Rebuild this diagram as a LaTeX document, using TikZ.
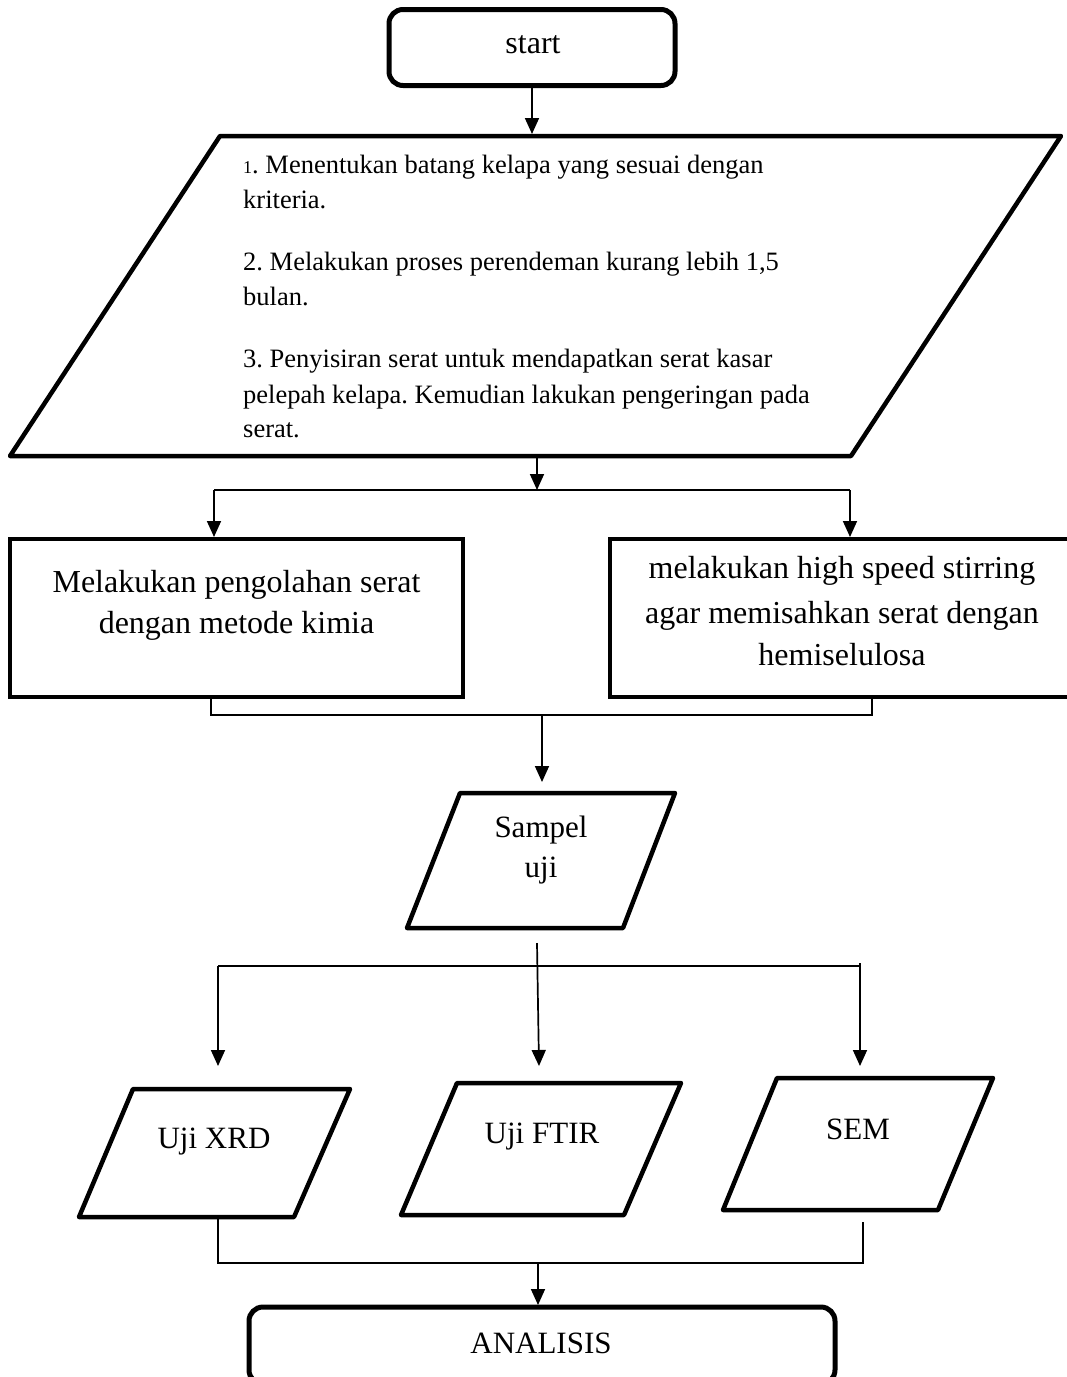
\documentclass[tikz,border=0pt]{standalone}
\usepackage{fontspec}
\setmainfont{Liberation Serif}
\usetikzlibrary{arrows.meta}
\frenchspacing
\begin{document}
\begin{tikzpicture}[x=1pt,y=-1pt,
  conn/.style={line width=1.7pt},
  arr/.style={conn,-{Triangle[length=16pt,width=14pt]}},
  shp/.style={line width=4.5pt,line join=round},
  box/.style={draw,line width=4.5pt,inner sep=0pt,outer sep=0pt},
  rbox/.style={box,line width=5pt,rounded corners=14pt},
  tl/.style={inner sep=0pt,anchor=base},
  tw/.style={inner sep=0pt,anchor=base west},
  small/.style={font=\fontsize{26.5}{30}\selectfont},
  big/.style={font=\fontsize{32}{38}\selectfont}]

\useasboundingbox (0,0) rectangle (1067,1377);

% start
\node[rbox, minimum width=286pt, minimum height=76pt] (start) at (532,47.5) {};
\node[tl,big] (starttxt) at (533,53) {start};

% big input parallelogram
\coordinate (p1a) at (220,136);
\coordinate (p1b) at (1061,136);
\coordinate (p1c) at (851,456);
\coordinate (p1d) at (10,456);
\draw[shp] (p1a) -- (p1b) -- (p1c) -- (p1d) -- cycle;
\coordinate (p1top) at (532,134);
\coordinate (p1bot) at (537,458);
\draw[arr] (start.south) -- (p1top);

\node[tw,small] (l1) at (243,173) {{\fontsize{18}{20}\selectfont 1}. Menentukan batang kelapa yang sesuai dengan};
\node[tw,small] (l2) at (243,208) {kriteria.};
\node[tw,small] (l3) at (243,270) {2. Melakukan proses perendeman kurang lebih 1,5};
\node[tw,small] (l4) at (243,305) {bulan.};
\node[tw,small] (l5) at (243,367) {3. Penyisiran serat untuk mendapatkan serat kasar};
\node[tw,small] (l6) at (243,403) {pelepah kelapa. Kemudian lakukan pengeringan pada};
\node[tw,small] (l7) at (243,437) {serat.};

% split
\coordinate (j1) at (537,490);
\coordinate (j1l) at (214,490);
\coordinate (j1r) at (850,490);
\draw[arr] (p1bot) -- (j1);
\draw[conn] (j1l) -- (j1r);

% process boxes
\node[box, minimum width=453pt, minimum height=158pt] (b1) at (236.5,618) {};
\node[box, minimum width=464pt, minimum height=158pt] (b2) at (842,618) {};
\draw[arr,shorten >=2pt] (j1l) -- (j1l |- b1.north);
\draw[arr,shorten >=2pt] (j1r) -- (j1r |- b2.north);

\node[tl,big] (b1t1) at (236.5,592) {Melakukan pengolahan serat};
\node[tl,big] (b1t2) at (236.5,633) {dengan metode kimia};
\node[tl,big] (b2t1) at (842,578) {melakukan high speed stirring};
\node[tl,big] (b2t2) at (842,623) {agar memisahkan serat dengan};
\node[tl,big] (b2t3) at (842,665) {hemiselulosa};

% merge
\coordinate (m1l) at (211,715);
\coordinate (m1r) at (872,715);
\coordinate (m1) at (542,715);
\coordinate (sIn) at (542,782);
\draw[conn] (b1.south -| m1l) -- (m1l) -- (m1r) -- (b2.south -| m1r);
\draw[arr] (m1) -- (sIn);

% Sampel uji
\coordinate (sa) at (460,793);
\coordinate (sb) at (675,793);
\coordinate (sc) at (623,928);
\coordinate (sd) at (407,928);
\draw[shp] (sa) -- (sb) -- (sc) -- (sd) -- cycle;
\node[tl,big,font=\fontsize{31}{36}\selectfont] (st1) at (541,837) {Sampel};
\node[tl,big,font=\fontsize{31}{36}\selectfont] (st2) at (541,877) {uji};

% split to tests
\coordinate (sOut) at (537,943);
\coordinate (tIn2) at (539,1066);
\coordinate (j2l) at (218,966);
\coordinate (j2r) at (860,966);
\coordinate (j2rt) at (860,963);
\coordinate (tIn1) at (218,1066);
\coordinate (tIn3) at (860,1066);
\draw[arr] (sOut) -- (tIn2);
\draw[conn] (j2l) -- (j2r);
\draw[arr] (j2l) -- (tIn1);
\draw[arr] (j2rt) -- (tIn3);

% tests
\draw[shp] (133,1089) coordinate (xa) -- (350,1089) coordinate (xb) -- (294,1217) coordinate (xc) -- (79,1217) coordinate (xd) -- cycle;
\draw[shp] (457,1083) coordinate (fa) -- (681,1083) coordinate (fb) -- (624,1215) coordinate (fc) -- (401,1215) coordinate (fd) -- cycle;
\draw[shp] (777,1078) coordinate (ea) -- (993,1078) coordinate (eb) -- (938,1210) coordinate (ec) -- (723,1210) coordinate (ed) -- cycle;
\node[tl,font=\fontsize{31}{36}\selectfont] (xt) at (214,1148) {Uji XRD};
\node[tl,font=\fontsize{31}{36}\selectfont] (ft) at (542,1143) {Uji FTIR};
\node[tl,font=\fontsize{31}{36}\selectfont] (et) at (858,1139) {SEM};

% merge to analisis
\coordinate (xo) at (218,1217);
\coordinate (eo) at (863,1222);
\coordinate (m2l) at (218,1263);
\coordinate (m2r) at (863,1263);
\coordinate (m2) at (538,1263);
\draw[conn] (xo) -- (m2l) -- (m2r) -- (eo);

\node[rbox, minimum width=586pt, minimum height=77pt] (ana) at (542,1345.5) {};
\draw[arr,shorten >=2pt] (m2) -- (m2 |- ana.north);
\node[tl,font=\fontsize{31}{36}\selectfont] (anat) at (541,1353) {ANALISIS};
\end{tikzpicture}
\end{document}
